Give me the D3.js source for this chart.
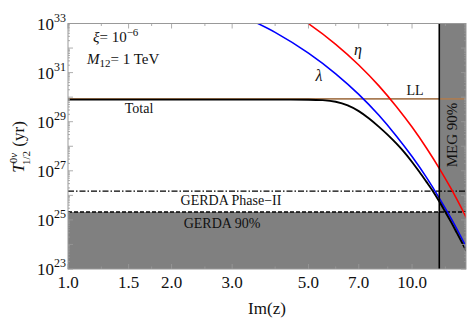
<!DOCTYPE html>
<html>
<head>
<meta charset="utf-8">
<script src="https://cdn.jsdelivr.net/npm/d3@7"></script>
<style>
  body { margin: 0; background: #fff; }
  text { font-family: "Liberation Serif", "DejaVu Serif", serif; fill: #111; }
</style>
</head>
<body>
<svg id="chart" width="468" height="319"></svg>
<script>
// values (T in years vs Im(z))
var xTicks = [1.0, 1.5, 2.0, 3.0, 5.0, 7.0, 10.0];
var xMinor = [1.25, 1.75, 2.5, 4, 6, 8.5, 12.5];
var yTicks = [1e23, 1e25, 1e27, 1e29, 1e31, 1e33];

var zLambda = [3.4, 4, 5, 6, 7, 8, 9, 10, 11, 12, 13, 14.4];
var tLambda = [1.38e33, 4.37e32, 6.17e31, 8.91e30, 1.29e30, 1.86e29, 2.63e28, 3.80e27, 5.50e26, 7.76e25, 1.12e25, 7.41e23];

var zEta = [4.8, 5, 6, 7, 8, 9, 10, 11, 12, 13, 14.4];
var tEta = [1.45e33, 9.8e32, 1.41e32, 2.04e31, 2.95e30, 4.17e29, 6.03e28, 8.71e27, 1.26e27, 1.82e26, 1.20e25];

var zTotal = [1, 2, 3, 4, 5, 5.5, 6, 6.5, 7, 7.5, 8, 8.5, 9, 9.5, 10, 10.5, 11, 11.5, 12, 12.5, 13, 13.5, 14.4];
var tTotal = [7.94e29, 7.94e29, 7.94e29, 7.94e29, 7.88e29, 7.55e29, 6.5e29, 4.6e29, 2.7e29, 1.35e29, 6.3e28, 2.9e28, 1.3e28,
              5.62e27, 2.29e27, 9.12e26, 3.63e26, 1.48e26, 5.62e25, 2.09e25, 7.94e24, 2.95e24, 5.25e23];

var tLL = 8.5e29;
var tGerda2 = 1.5e26;
var tGerda90 = 2.1e25;
var zMEG = 12.0;

var svg = d3.select("#chart");
var pLeft = 68, pRight = 466, pTop = 23.5, pBottom = 269;

var x = d3.scaleLog().domain([1, 14.35]).range([pLeft, pRight]);
var y = d3.scaleLog().domain([1e23, 1e33]).range([pBottom, pTop]);

svg.append("defs").append("clipPath").attr("id", "plotclip")
  .append("rect").attr("x", pLeft).attr("y", pTop).attr("width", pRight - pLeft).attr("height", pBottom - pTop);

var plot = svg.append("g").attr("clip-path", "url(#plotclip)");

// excluded regions
plot.append("rect")
  .attr("x", pLeft).attr("y", y(tGerda90))
  .attr("width", pRight - pLeft).attr("height", pBottom - y(tGerda90))
  .style("fill", "#808080");
plot.append("rect")
  .attr("x", x(zMEG)).attr("y", pTop)
  .attr("width", pRight - x(zMEG)).attr("height", pBottom - pTop)
  .style("fill", "#808080");

// experimental bounds
plot.append("line")
  .attr("x1", pLeft).attr("x2", pRight).attr("y1", y(tGerda2)).attr("y2", y(tGerda2))
  .style("stroke", "#000").style("stroke-width", "1.3px").style("stroke-dasharray", "6,2,1.5,2");
plot.append("line")
  .attr("x1", pLeft).attr("x2", pRight).attr("y1", y(tGerda90)).attr("y2", y(tGerda90))
  .style("stroke", "#000").style("stroke-width", "1.3px").style("stroke-dasharray", "4,2");
plot.append("line")
  .attr("x1", pLeft).attr("x2", pRight).attr("y1", y(tLL)).attr("y2", y(tLL))
  .style("stroke", "#a97c55").style("stroke-width", "1.8px");

var line = d3.line().curve(d3.curveMonotoneX)
  .x(function(d) { return x(d[0]); })
  .y(function(d) { return y(d[1]); });

plot.append("path")
  .datum(d3.zip(zLambda, tLambda))
  .attr("d", line)
  .style("fill", "none").style("stroke", "#0000ff").style("stroke-width", "1.6px");
plot.append("path")
  .datum(d3.zip(zEta, tEta))
  .attr("d", line)
  .style("fill", "none").style("stroke", "#ff0000").style("stroke-width", "1.6px");
plot.append("path")
  .datum(d3.zip(zTotal, tTotal))
  .attr("d", line)
  .style("fill", "none").style("stroke", "#000").style("stroke-width", "1.9px");

plot.append("line")
  .attr("x1", x(zMEG)).attr("x2", x(zMEG)).attr("y1", pTop).attr("y2", pBottom)
  .style("stroke", "#000").style("stroke-width", "1.6px");

// frame and ticks
var frameColor = "#999";
svg.append("rect")
  .attr("x", pLeft).attr("y", pTop).attr("width", pRight - pLeft).attr("height", pBottom - pTop)
  .style("fill", "none").style("stroke", frameColor).style("stroke-width", "1px");

var ticks = svg.append("g").style("stroke", frameColor).style("stroke-width", "0.8px");

xTicks.forEach(function(v) {
  ticks.append("line").attr("x1", x(v)).attr("x2", x(v)).attr("y1", pBottom).attr("y2", pBottom - 5);
  ticks.append("line").attr("x1", x(v)).attr("x2", x(v)).attr("y1", pTop).attr("y2", pTop + 5);
});
xMinor.forEach(function(v) {
  ticks.append("line").attr("x1", x(v)).attr("x2", x(v)).attr("y1", pBottom).attr("y2", pBottom - 2.5);
  ticks.append("line").attr("x1", x(v)).attr("x2", x(v)).attr("y1", pTop).attr("y2", pTop + 2.5);
});

for (var p = 23; p < 33; p++) {
  for (var m = 1; m < 10; m++) {
    var v = m * Math.pow(10, p);
    var len = m === 1 ? 5 : 2;
    ticks.append("line").attr("x1", pLeft).attr("x2", pLeft + len).attr("y1", y(v)).attr("y2", y(v));
    ticks.append("line").attr("x1", pRight).attr("x2", pRight - len).attr("y1", y(v)).attr("y2", y(v));
  }
}

// tick labels
svg.selectAll(".xlab").data(xTicks).enter().append("text")
  .attr("x", function(d) { return x(d); })
  .attr("y", 288)
  .attr("text-anchor", "middle")
  .style("font-size", "17px")
  .text(function(d) { return d.toFixed(1); });

var ylab = svg.selectAll(".ylab").data(yTicks).enter().append("text")
  .attr("x", 66)
  .attr("y", function(d) { return y(d) + 6; })
  .attr("text-anchor", "end")
  .style("font-size", "17px");
ylab.append("tspan").text("10");
ylab.append("tspan").attr("dy", -8).style("font-size", "12px")
  .text(function(d) { return Math.round(Math.log10(d)); });

// axis titles
svg.append("text").attr("x", 267).attr("y", 314).attr("text-anchor", "middle").style("font-size", "17px").text("Im(z)");

var yt = svg.append("text").attr("transform", "translate(24,147) rotate(-90)")
  .attr("text-anchor", "middle").style("font-size", "17px");
yt.append("tspan").style("font-style", "italic").text("T");
yt.append("tspan").attr("dy", -7).style("font-size", "11px").text("0");
yt.append("tspan").style("font-size", "11px").style("font-style", "italic").text("ν");
yt.append("tspan").attr("dx", -12).attr("dy", 13).style("font-size", "11px").text("1/2");
yt.append("tspan").attr("dy", -6).text(" (yr)");

// annotations
var t1 = svg.append("text").attr("x", 93).attr("y", 42).style("font-size", "15px");
t1.append("tspan").style("font-style", "italic").text("ξ");
t1.append("tspan").text("= 10");
t1.append("tspan").attr("dy", -6).style("font-size", "11px").text("−6");

var t2 = svg.append("text").attr("x", 87).attr("y", 64).style("font-size", "15px");
t2.append("tspan").style("font-style", "italic").text("M");
t2.append("tspan").attr("dy", 3).style("font-size", "11px").text("12");
t2.append("tspan").attr("dy", -3).text("= 1 TeV");

svg.append("text").attr("x", 139).attr("y", 113).attr("text-anchor", "middle").style("font-size", "14px").text("Total");
svg.append("text").attr("x", 319).attr("y", 81).attr("text-anchor", "middle").style("font-size", "16px").style("font-style", "italic").text("λ");
svg.append("text").attr("x", 358).attr("y", 55).attr("text-anchor", "middle").style("font-size", "16px").style("font-style", "italic").text("η");
svg.append("text").attr("x", 415).attr("y", 95).attr("text-anchor", "middle").style("font-size", "14px").text("LL");
svg.append("text").attr("x", 231).attr("y", 205).attr("text-anchor", "middle").style("font-size", "14px").text("GERDA Phase−II");
svg.append("text").attr("x", 222).attr("y", 228).attr("text-anchor", "middle").style("font-size", "14px").text("GERDA 90%");
svg.append("text").attr("transform", "translate(457,135) rotate(-90)").attr("text-anchor", "middle")
  .style("font-size", "15px").text("MEG 90%");
</script>
</body>
</html>
